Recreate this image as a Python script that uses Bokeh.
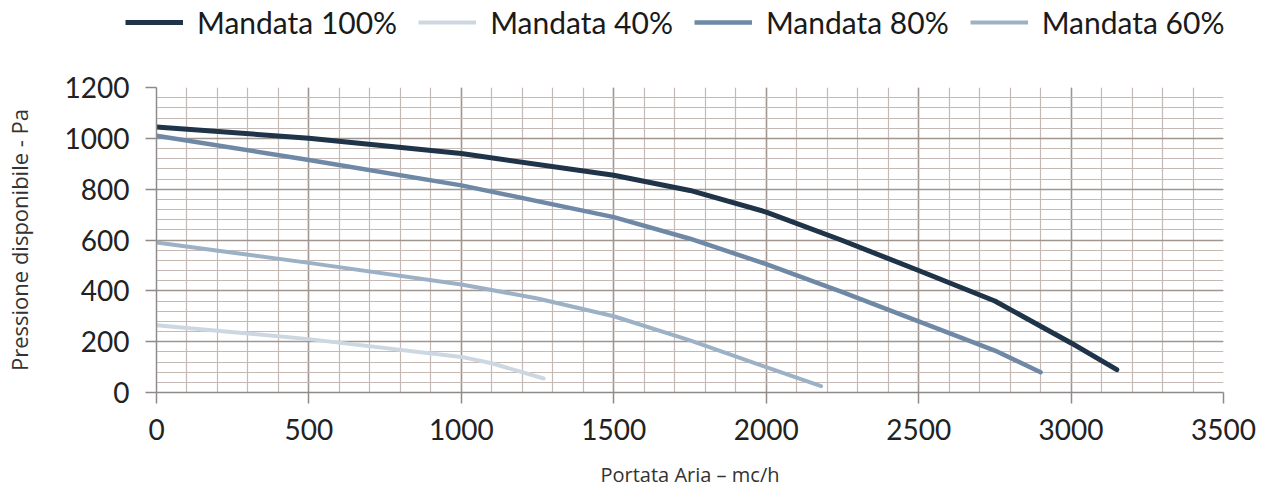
from bokeh.plotting import figure
from bokeh.layouts import column
from bokeh.models import Legend, LegendItem, Range1d, FixedTicker
from bokeh.embed import file_html
from bokeh.resources import INLINE

# ---- data ----
flow_100 = [0, 500, 1000, 1500, 1750, 2000, 2250, 2500, 2750, 3000, 3150]
pres_100 = [1045, 1000, 940, 855, 795, 710, 598, 480, 360, 195, 90]

flow_80 = [0, 500, 1000, 1500, 1750, 2000, 2250, 2500, 2750, 2900]
pres_80 = [1010, 915, 815, 690, 605, 505, 395, 280, 165, 80]

flow_60 = [0, 500, 1000, 1250, 1500, 1750, 2000, 2180]
pres_60 = [590, 510, 425, 370, 300, 205, 100, 25]

flow_40 = [0, 500, 1000, 1100, 1270]
pres_40 = [265, 210, 140, 115, 55]

series_labels = ["Mandata 100%", "Mandata 40%", "Mandata 80%", "Mandata 60%"]
x_ticks = [0, 500, 1000, 1500, 2000, 2500, 3000, 3500]
y_ticks = [0, 200, 400, 600, 800, 1000, 1200]
x_label = "Portata Aria – mc/h"
y_label = "Pressione disponibile - Pa"

colors = {"100": "#1f3349", "40": "#cdd7e1", "80": "#6e88a6", "60": "#9db1c6"}
widths = {"100": 5, "40": 4, "80": 4.5, "60": 4}
series = {"100": (flow_100, pres_100), "40": (flow_40, pres_40),
          "80": (flow_80, pres_80), "60": (flow_60, pres_60)}
tick_font = "Lato"

# ---- main figure ----
W = 1259
LEG_H = 60
H = 430
p = figure(width=W, height=H, output_backend="svg", toolbar_location=None,
           x_range=Range1d(0, 3500), y_range=Range1d(0, 1200),
           min_border_left=155, min_border_right=36,
           min_border_top=27, min_border_bottom=95)
p.frame_align = False
p.outline_line_color = None
p.background_fill_color = "white"
p.border_fill_color = "white"

for ax, ticks in ((p.xaxis, x_ticks), (p.yaxis, y_ticks)):
    ax.ticker = FixedTicker(ticks=ticks)
    ax.major_label_text_font = tick_font
    ax.major_label_text_font_size = "28px"
    ax.major_label_text_color = "#222222"
    ax.axis_line_color = "#8f8a8a"
    ax.axis_line_width = 1.5
    ax.major_tick_line_color = "#8f8a8a"
    ax.major_tick_line_width = 1.5
    ax.major_tick_out = 11
    ax.major_tick_in = 0
    ax.minor_tick_line_color = None
    ax.axis_label_text_font = "Open Sans"
    ax.axis_label_text_font_style = "normal"
    ax.axis_label_text_color = "#333333"

p.xaxis.axis_label = x_label
p.yaxis.axis_label = y_label
p.xaxis.axis_label_text_font_size = "20px"
p.yaxis.axis_label_text_font_size = "22px"
p.xaxis.major_label_standoff = 15
p.yaxis.major_label_standoff = 16
p.xaxis.axis_label_standoff = 18
p.yaxis.axis_label_standoff = 28

p.xgrid.ticker = FixedTicker(ticks=x_ticks, minor_ticks=list(range(0, 3501, 100)))
p.ygrid.ticker = FixedTicker(ticks=y_ticks, minor_ticks=list(range(0, 1201, 40)))
for g in (p.xgrid, p.ygrid):
    g.grid_line_color = "#a0968f"
    g.grid_line_width = 1.5
    g.minor_grid_line_color = "#c4b9b4"
    g.minor_grid_line_width = 1.2

for key in ["40", "60", "80", "100"]:
    xs, ys = series[key]
    p.line(xs, ys, line_color=colors[key], line_width=widths[key], line_cap="round")

# ---- legend strip (separate figure above the chart) ----
pl = figure(width=W, height=LEG_H, output_backend="svg", toolbar_location=None,
            x_range=Range1d(0, 1), y_range=Range1d(0, 1),
            min_border_left=0, min_border_right=0, min_border_top=0, min_border_bottom=0)
pl.frame_align = False
pl.axis.visible = False
pl.grid.visible = False
pl.outline_line_color = None
pl.background_fill_color = "white"
pl.border_fill_color = "white"

items = []
for lab, key in zip(series_labels, ["100", "40", "80", "60"]):
    xs, ys = series[key]
    # same series, outside this strip's visible range: only its legend sample shows
    r = pl.line(xs, ys, line_color=colors[key], line_width=widths[key])
    items.append(LegendItem(label=lab, renderers=[r]))
lg = Legend(items=items, location=(125, 20), orientation="horizontal",
            background_fill_alpha=0, border_line_color=None,
            label_text_font=tick_font, label_text_font_size="30px",
            label_text_color="#1a1a1a", glyph_width=58, glyph_height=20,
            padding=0, margin=0, spacing=21, label_standoff=14)
pl.add_layout(lg, "center")

layout = column(pl, p, spacing=0)
open("out.html", "w").write(file_html(layout, INLINE))
